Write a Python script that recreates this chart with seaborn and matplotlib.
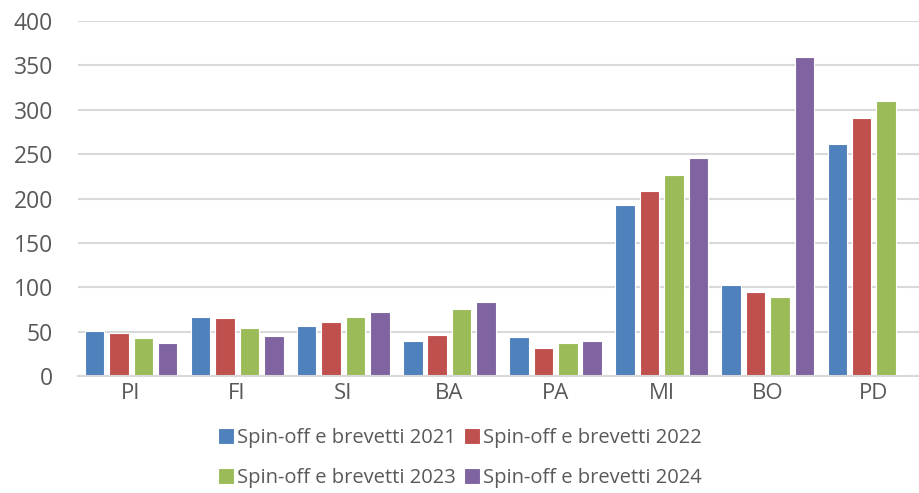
import matplotlib
matplotlib.use("Agg")
import matplotlib.pyplot as plt
import numpy as np
import pandas as pd
import seaborn as sns

# Province codes and yearly spin-off/patent counts
provinces = ["PI", "FI", "SI", "BA", "PA", "MI", "BO", "PD"]
series_names = ["Spin-off e brevetti 2021", "Spin-off e brevetti 2022",
                "Spin-off e brevetti 2023", "Spin-off e brevetti 2024"]
v2021 = [51, 66, 56, 40, 44, 193, 102, 261]
v2022 = [49, 65, 61, 46, 32, 209, 95, 291]
v2023 = [43, 54, 67, 75, 37, 226, 89, 310]
v2024 = [37, 45, 72, 83, 40, 246, 359, np.nan]
y_ticks = [0, 50, 100, 150, 200, 250, 300, 350, 400]

colors = ["#4F81BD", "#C0504D", "#9BBB59", "#8064A2"]
text_color = "#595959"
grid_color = "#D9D9D9"

rows = []
for name, vals in zip(series_names, [v2021, v2022, v2023, v2024]):
    for prov, v in zip(provinces, vals):
        rows.append({"provincia": prov, "serie": name, "valore": v})
df = pd.DataFrame(rows)

sns.set_theme(style="white")
plt.rcParams["font.family"] = ["Open Sans", "DejaVu Sans"]

fig = plt.figure(figsize=(9.19, 4.93), dpi=100)
ax = fig.add_axes([78 / 919, 1 - 376 / 493, 849 / 919, 355 / 493])

sns.barplot(data=df, x="provincia", y="valore", hue="serie",
            order=provinces, hue_order=series_names, palette=colors,
            width=0.92, gap=0.2, edgecolor="white", linewidth=0.8,
            saturation=1, errorbar=None, ax=ax)

ax.set_ylim(0, 400)
ax.set_yticks(y_ticks)
ax.set_xlim(-0.5, len(provinces) - 0.5)
ax.set_xlabel("")
ax.set_ylabel("")
ax.yaxis.grid(True, color=grid_color, linewidth=1.5)
ax.set_axisbelow(True)
for side in ["top", "right", "left"]:
    ax.spines[side].set_visible(False)
ax.spines["bottom"].set_color(grid_color)
ax.spines["bottom"].set_linewidth(1.5)
ax.tick_params(axis="y", length=0, pad=18, labelsize=16.5, labelcolor=text_color)
ax.tick_params(axis="x", length=0, pad=5, labelsize=16, labelcolor=text_color)

# Legend laid out row by row: 2021, 2022 on top, 2023, 2024 below
handles, labels = ax.get_legend_handles_labels()
ax.legend_.remove()
order = [0, 2, 1, 3]
fig.legend([handles[i] for i in order], [labels[i] for i in order],
           loc="center", bbox_to_anchor=(459.5 / 919, 1 - 458 / 493),
           ncol=2, frameon=False, fontsize=14.5, labelcolor=text_color,
           handlelength=0.8, handleheight=0.8, handletextpad=0.15,
           columnspacing=0.4, labelspacing=1.0, borderpad=0)

fig.savefig("out.png", dpi=100)
